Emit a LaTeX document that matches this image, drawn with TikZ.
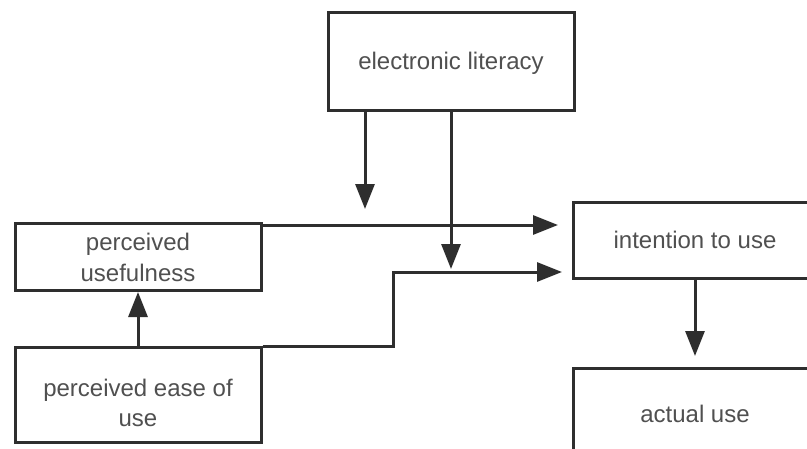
\documentclass[tikz,border=0pt]{standalone}
\usepackage{fontspec}
\setmainfont{Liberation Sans}
\usetikzlibrary{arrows.meta}
\definecolor{linec}{HTML}{2E2E2E}
\definecolor{textc}{HTML}{505050}
\tikzset{
  box/.style={draw=linec, line width=3pt, fill=white, inner sep=0pt,
    text=textc, align=center, font=\fontsize{24}{31}\selectfont},
  oneline/.style={text depth=0pt},
  plaintext/.style={inner sep=0pt, text=textc, align=center,
    font=\fontsize{24}{30}\selectfont},
  conn/.style={draw=linec, line width=3pt,
    -{Triangle[length=25pt,width=19pt]}},
}
\begin{document}
\begin{tikzpicture}[x=1pt,y=-1pt]
\useasboundingbox (0,0) rectangle (807,448);
\clip (0,0) rectangle (807,448);
\fill[white] (0,0) rectangle (807,448);

\node[box, oneline, minimum width=246pt, minimum height=98pt] (el) at (451,61) {electronic literacy};
\node[box, minimum width=246pt, minimum height=67pt] (pu) at (138,257) {perceived\\usefulness};
\node[box, minimum width=246pt, minimum height=95pt] (pe) at (138,395) {};
\node[plaintext] (pet) at (138,403) {perceived ease of\\use};
\node[box, oneline, minimum width=244pt, minimum height=76pt] (iu) at (695,240) {intention to use};
\node[box, oneline, minimum width=244pt, minimum height=92pt] (au) at (695,414) {actual use};

\coordinate (t1) at (365,209);
\coordinate (t2) at (451,269);
\coordinate (t3) at (558,225);
\coordinate (bend) at (393,272);
\coordinate (t4) at (562,272);
\coordinate (t5) at (695,356);

\draw[conn] (el.south -| t1) -- (t1);
\draw[conn] (el.south -| t2) -- (t2);
\draw[conn] (pu.east |- t3) -- (t3);
\draw[conn] (pe.north east) -- (bend |- pe.north east) -- (bend) -- (t4);
\draw[conn] (pe.north) -- (pu.south);
\draw[conn] (iu.south) -- (t5);
\end{tikzpicture}
\end{document}
